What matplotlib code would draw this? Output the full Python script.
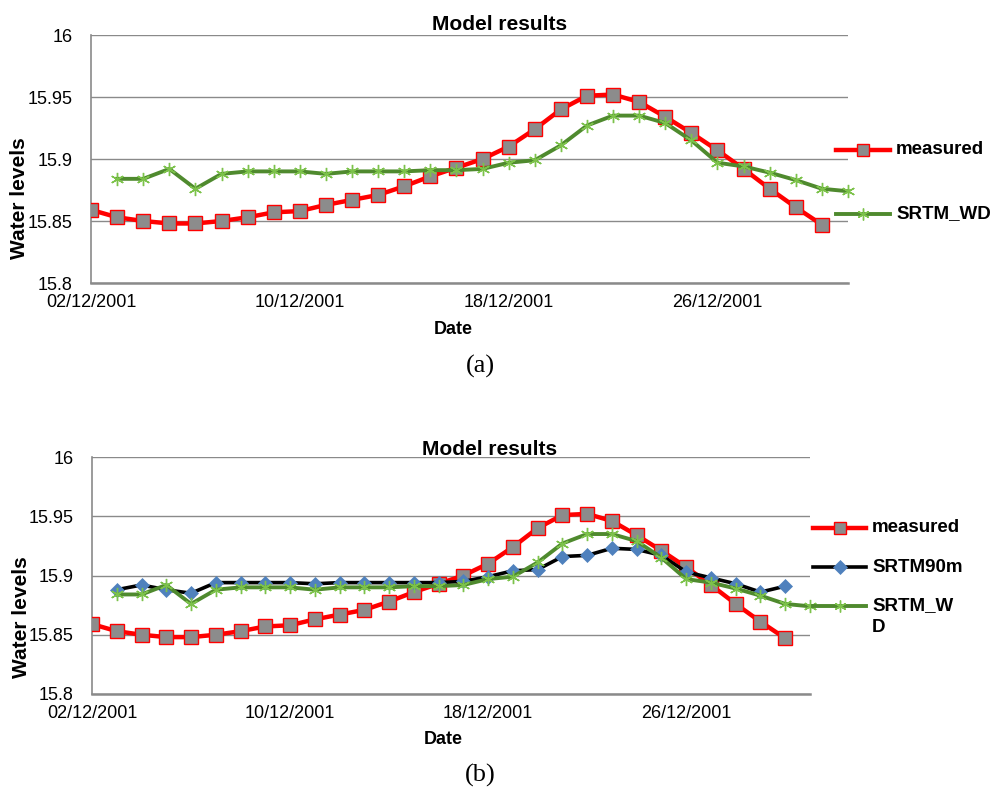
import matplotlib
matplotlib.use("Agg")
import matplotlib.pyplot as plt
import matplotlib.dates as mdates
from matplotlib.lines import Line2D
import pandas as pd

plt.rcParams['font.family'] = ['Liberation Sans', 'DejaVu Sans']

# ---- data ----
measured_dates = pd.date_range("2001-12-02", "2001-12-30")
measured = [15.859, 15.853, 15.850, 15.848, 15.848, 15.850, 15.853, 15.857,
            15.858, 15.863, 15.867, 15.871, 15.878, 15.886, 15.893, 15.900,
            15.910, 15.924, 15.940, 15.951, 15.952, 15.946, 15.934, 15.921,
            15.907, 15.892, 15.876, 15.861, 15.847]

srtm_wd_dates = pd.date_range("2001-12-03", "2001-12-31")
srtm_wd = [15.884, 15.884, 15.892, 15.876, 15.888, 15.890, 15.890, 15.890,
           15.888, 15.890, 15.890, 15.890, 15.891, 15.891, 15.892, 15.897,
           15.899, 15.911, 15.927, 15.935, 15.935, 15.929, 15.915, 15.897,
           15.894, 15.889, 15.883, 15.876, 15.874]

srtm90_dates = pd.date_range("2001-12-03", "2001-12-30")
srtm90 = [15.888, 15.892, 15.888, 15.885, 15.894, 15.894, 15.894, 15.894,
          15.893, 15.894, 15.894, 15.894, 15.894, 15.894, 15.895, 15.899,
          15.904, 15.905, 15.916, 15.917, 15.923, 15.922, 15.917, 15.903,
          15.898, 15.893, 15.886, 15.891]

y_ticks = [15.8, 15.85, 15.9, 15.95, 16]
y_tick_labels = ["15.8", "15.85", "15.9", "15.95", "16"]
x_ticks = pd.to_datetime(["2001-12-02", "2001-12-10", "2001-12-18", "2001-12-26"])
x_lim = pd.to_datetime(["2001-12-02", "2001-12-31"])

# ---- styles ----
W, H = 991, 789
STYLE = {
    "measured": dict(color="#ff0000", lw=3.2, marker="s", ms=9.5,
                     mfc="#8c8c8c", mec="#ff0000", mew=1.0),
    "SRTM90m": dict(color="#000000", lw=2.6, marker="D", ms=7.5,
                    mfc="#4f81bd", mec="#4f81bd", mew=0.5),
    "SRTM_WD": dict(color="#4f8a2e", lw=2.8, marker=(6, 2, 0), ms=9.5,
                    mfc="#7cc24a", mec="#7cc24a", mew=1.0),
}


def fx(x):
    return x / W


def fy(y):
    return 1 - y / H


def setup_axes(ax):
    ax.set_ylim(15.8, 16)
    ax.set_yticks(y_ticks)
    ax.set_yticklabels(y_tick_labels)
    ax.set_xlim(x_lim[0], x_lim[1])
    ax.set_xticks(x_ticks)
    ax.xaxis.set_major_formatter(mdates.DateFormatter("%d/%m/%Y"))
    ax.tick_params(axis="both", length=0, labelsize=13)
    ax.tick_params(axis="y", pad=13)
    ax.tick_params(axis="x", pad=8)
    ax.grid(axis="y", color="#8a8a8a", lw=1.0)
    ax.set_axisbelow(True)
    for s in ("top", "right"):
        ax.spines[s].set_visible(False)
    ax.spines["left"].set_color("#8a8a8a")
    ax.spines["left"].set_linewidth(1.2)
    ax.spines["bottom"].set_color("#8a8a8a")
    ax.spines["bottom"].set_linewidth(1.8)


def legend_entry(fig, x0, x1, y, text, key):
    st = STYLE[key]
    fig.add_artist(Line2D([fx(x0), fx(x1)], [fy(y), fy(y)],
                          transform=fig.transFigure, color=st["color"], lw=st["lw"]))
    fig.add_artist(Line2D([fx((x0 + x1) / 2)], [fy(y)], transform=fig.transFigure,
                          linestyle="none", marker=st["marker"], ms=st["ms"] * 0.9,
                          mfc=st["mfc"], mec=st["mec"], mew=st["mew"]))
    fig.text(fx(x1 + 6), fy(y), text, fontsize=13.5, fontweight="bold",
             va="center", ha="left")


fig = plt.figure(figsize=(W / 100, H / 100), dpi=100)

# ---- (a) ----
ax1 = fig.add_axes([fx(91), fy(283), (848 - 91) / W, (283 - 35) / H])
setup_axes(ax1)
ax1.plot(measured_dates, measured, zorder=3, **STYLE["measured"])
ax1.plot(srtm_wd_dates, srtm_wd, zorder=4, clip_on=False, **STYLE["SRTM_WD"])
fig.text(fx(500), fy(25), "Model results", fontsize=15, fontweight="bold",
         ha="center", va="center")
fig.text(fx(20), fy(198), "Water levels", fontsize=15, fontweight="bold",
         rotation=90, ha="center", va="center")
fig.text(fx(453), fy(329), "Date", fontsize=13, fontweight="bold",
         ha="center", va="center")
fig.text(fx(480), fy(366), "(a)", fontsize=19, family="Liberation Serif",
         ha="center", va="center")
legend_entry(fig, 836, 890, 150, "measured", "measured")
legend_entry(fig, 836, 890, 214, "SRTM_WD", "SRTM_WD")

# ---- (b) ----
ax2 = fig.add_axes([fx(92), fy(694), (810 - 92) / W, (694 - 457) / H])
setup_axes(ax2)
ax2.plot(measured_dates, measured, zorder=3, **STYLE["measured"])
ax2.plot(srtm90_dates, srtm90, zorder=4, **STYLE["SRTM90m"])
ax2.plot(srtm_wd_dates, srtm_wd, zorder=5, clip_on=False, **STYLE["SRTM_WD"])
fig.text(fx(490), fy(449), "Model results", fontsize=15, fontweight="bold",
         ha="center", va="center")
fig.text(fx(22), fy(617), "Water levels", fontsize=15, fontweight="bold",
         rotation=90, ha="center", va="center")
fig.text(fx(443), fy(740), "Date", fontsize=13, fontweight="bold",
         ha="center", va="center")
fig.text(fx(480), fy(775), "(b)", fontsize=19, family="Liberation Serif",
         ha="center", va="center")
legend_entry(fig, 813, 866, 528, "measured", "measured")
legend_entry(fig, 813, 866, 567, "SRTM90m", "SRTM90m")
legend_entry(fig, 813, 866, 606, "SRTM_W", "SRTM_WD")
fig.text(fx(872), fy(628), "D", fontsize=13.5, fontweight="bold",
         va="center", ha="left")

fig.savefig("out.png", dpi=100)
plt.close(fig)
